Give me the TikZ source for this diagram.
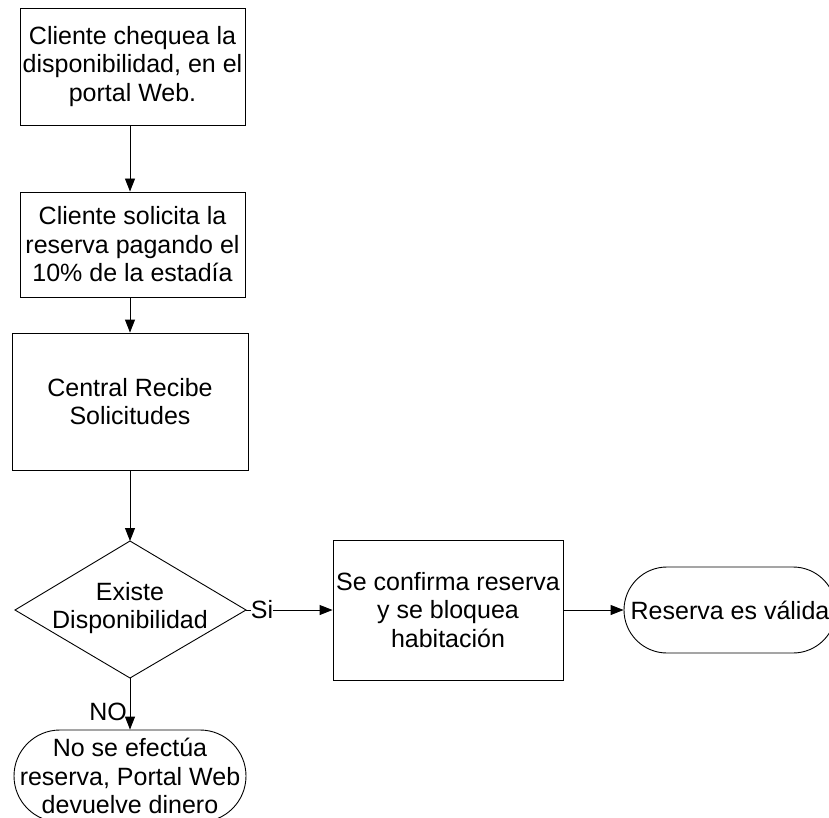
\documentclass[tikz,border=0pt]{standalone}
\usepackage{fontspec}
\setmainfont{Liberation Sans}
\usetikzlibrary{arrows.meta}
\begin{document}
\begin{tikzpicture}[x=1pt,y=-1pt,
  every node/.style={font=\fontsize{25}{28.5}\selectfont, align=center, inner sep=0pt},
  proc/.style={draw, line width=0.9pt},
  term/.style={draw, line width=0.9pt, rounded corners=#1},
  flow/.style={draw, line width=0.9pt, -{Triangle[length=13pt,width=10pt]}},
  plain/.style={draw, line width=0.9pt}]
  % page frame
  \fill[white] (0,0) rectangle (829,818);
  \clip (0,0) rectangle (829,818);

  % process boxes
  \node[proc, minimum width=225pt, minimum height=117pt] (chk) at (132.5,66.5)
    {Cliente chequea la\\disponibilidad, en el\\portal Web.};
  \node[proc, minimum width=225pt, minimum height=105pt] (sol) at (132.5,244.5)
    {Cliente solicita la\\reserva pagando el\\10\% de la estadía};
  \node[proc, minimum width=236pt, minimum height=137pt] (cen) at (130,401.5)
    {Central Recibe\\Solicitudes};

  % decision
  \coordinate (dt) at (130,541);
  \coordinate (dr) at (246,610);
  \coordinate (db) at (130,678);
  \coordinate (dl) at (15,610);
  \draw[line width=0.9pt] (dt) -- (dr) -- (db) -- (dl) -- cycle;
  \node (dtx) at (130,608) {Existe\\Disponibilidad};

  \node[proc, minimum width=230pt, minimum height=140pt] (conf) at (448,610)
    {Se confirma reserva\\y se bloquea\\habitación};

  % terminals
  \node[term=43pt, minimum width=212pt, minimum height=86pt] (ok) at (730,610)
    {Reserva es válida};
  \node[term=46pt, minimum width=232pt, minimum height=92pt] (no) at (130,776)
    {No se efectúa\\reserva, Portal Web\\devuelve dinero};

  % connectors (main column runs down x = 130)
  \draw[flow] (chk.south -| dt) -- (sol.north -| dt);
  \draw[flow] (sol.south -| dt) -- (cen.north -| dt);
  \draw[flow] (cen.south -| dt) -- (dt);
  \node (si) at (262,610) {Si};
  \draw[plain] (dr) -- (si.west);
  \draw[flow] (si.east) -- (conf.west);
  \draw[flow] (conf.east) -- (ok.west);
  \draw[flow] (db) -- (no.north);
  \node[anchor=east] (nolab) at (127,712) {NO};
\end{tikzpicture}
\end{document}
